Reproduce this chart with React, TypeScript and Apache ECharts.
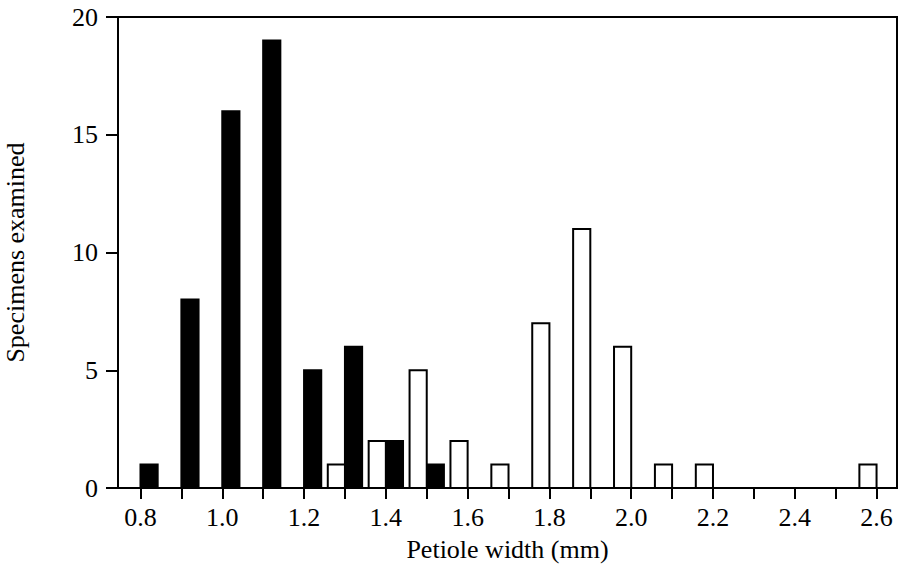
import React, { useEffect, useRef } from "react";
import * as echarts from "echarts";

// Black bars (left of each tick) and white bars (right-aligned to each tick)
const blackWidths = [0.8, 0.9, 1.0, 1.1, 1.2, 1.3, 1.4, 1.5];
const blackCounts = [1, 8, 16, 19, 5, 6, 2, 1];
const whiteWidths = [1.3, 1.4, 1.5, 1.6, 1.7, 1.8, 1.9, 2.0, 2.1, 2.2, 2.6];
const whiteCounts = [1, 2, 5, 2, 1, 7, 11, 6, 1, 1, 1];

const xTickValues = [0.8, 0.9, 1.0, 1.1, 1.2, 1.3, 1.4, 1.5, 1.6, 1.7, 1.8, 1.9, 2.0, 2.1, 2.2, 2.3, 2.4, 2.5, 2.6];
const xLabelValues = [0.8, 1.0, 1.2, 1.4, 1.6, 1.8, 2.0, 2.2, 2.4, 2.6];

const BAR_W = 0.042;
const FONT = "Liberation Serif";

export default function App() {
  const ref = useRef<HTMLDivElement>(null);
  useEffect(() => {
    if (!ref.current) return;
    const chart = echarts.init(ref.current, undefined, { renderer: "svg" });

    const makeRender = (side: "right" | "left", fill: string) =>
      (params: any, api: any) => {
        const x = api.value(0);
        const y = api.value(1);
        const x0 = side === "right" ? x : x - BAR_W;
        const x1 = side === "right" ? x + BAR_W : x;
        const p0 = api.coord([x0, 0]);
        const p1 = api.coord([x1, y]);
        return {
          type: "rect",
          shape: { x: p0[0], y: p1[1], width: p1[0] - p0[0], height: p0[1] - p1[1] },
          style: { fill, stroke: "#000", lineWidth: 2 },
        };
      };

    chart.setOption({
      animation: false,
      backgroundColor: "#fff",
      grid: {
        left: 118,
        right: 3,
        top: 17,
        bottom: 83,
        containLabel: false,
        outerBoundsMode: "none",
        show: true,
        borderColor: "#000",
        borderWidth: 2,
        backgroundColor: "transparent",
      },
      xAxis: {
        type: "value",
        min: 0.745,
        max: 2.65,
        name: "Petiole width (mm)",
        nameLocation: "middle",
        nameGap: 48,
        nameTextStyle: { fontFamily: FONT, fontSize: 26, color: "#000" },
        axisLine: { show: true, onZero: false, lineStyle: { color: "#000", width: 2 } },
        axisTick: {
          show: true,
          length: 11,
          customValues: xTickValues,
          lineStyle: { color: "#000", width: 2 },
        },
        axisLabel: {
          customValues: xLabelValues,
          formatter: (v: number) => v.toFixed(1),
          fontFamily: FONT,
          fontSize: 26,
          color: "#000",
          margin: 16,
        },
        splitLine: { show: false },
      },
      yAxis: {
        type: "value",
        min: 0,
        max: 20,
        interval: 5,
        name: "Specimens examined",
        nameLocation: "middle",
        nameGap: 90,
        nameTextStyle: { fontFamily: FONT, fontSize: 26, color: "#000" },
        axisLine: { show: true, lineStyle: { color: "#000", width: 2 } },
        axisTick: { show: true, length: 12, lineStyle: { color: "#000", width: 2 } },
        axisLabel: { fontFamily: FONT, fontSize: 26, color: "#000", margin: 20 },
        splitLine: { show: false },
      },
      series: [
        {
          type: "custom",
          name: "black",
          renderItem: makeRender("right", "#000"),
          data: blackWidths.map((w, i) => [w, blackCounts[i]]),
          encode: { x: 0, y: 1 },
        },
        {
          type: "custom",
          name: "white",
          renderItem: makeRender("left", "#fff"),
          data: whiteWidths.map((w, i) => [w, whiteCounts[i]]),
          encode: { x: 0, y: 1 },
        },
      ],
    });
    return () => chart.dispose();
  }, []);
  return (
    <div
      ref={ref}
      style={{ position: "fixed", left: 0, top: 0, width: 900, height: 571, background: "#fff" }}
    />
  );
}
